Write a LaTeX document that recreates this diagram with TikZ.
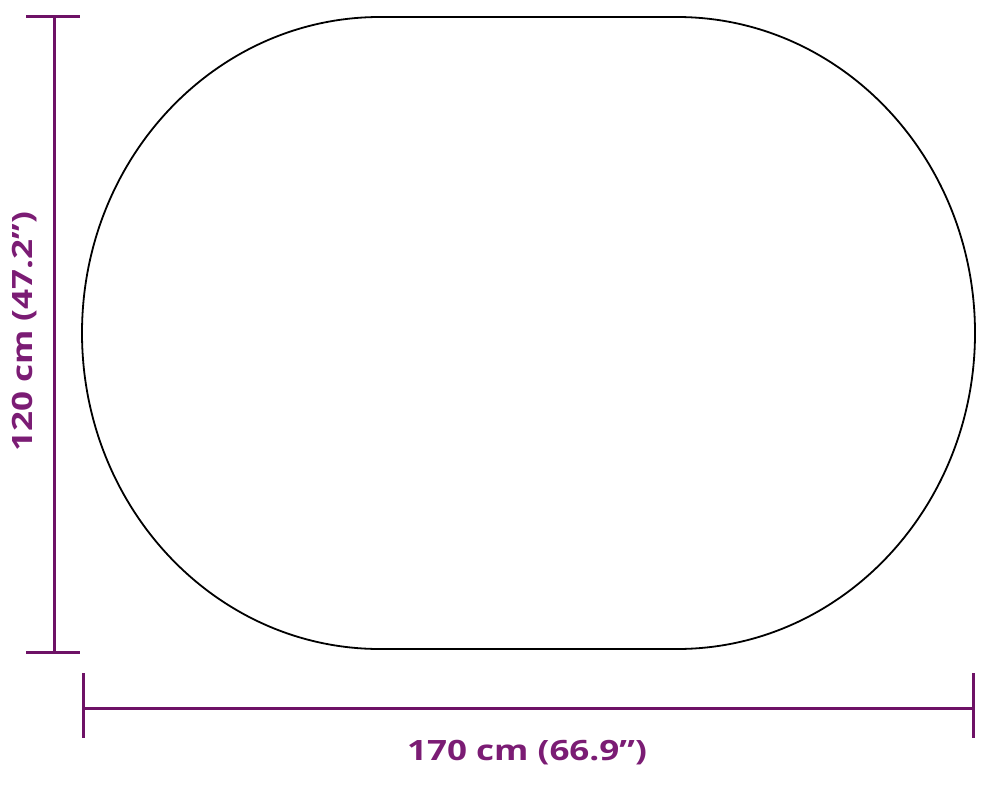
\documentclass[tikz,border=0pt]{standalone}
\usepackage{fontspec}
\setmainfont{Open Sans}
\definecolor{dimline}{HTML}{6E1266}
\definecolor{dimtext}{HTML}{7B1C74}
\newcommand{\dimtxt}[1]{\scalebox{1.25}[1]{#1}}
\begin{document}
\begin{tikzpicture}[x=1pt,y=-1pt,
  dim/.style={draw=dimline,line width=3pt},
  dimlabel/.style={text=dimtext,font=\bfseries\fontsize{28}{32}\selectfont,inner sep=0pt,anchor=base},
  outline/.style={draw=black,line width=1.8pt}]
\useasboundingbox (0,0) rectangle (984,784);
% oval
\draw[outline] (380,17) -- (677,17) arc[start angle=90,end angle=-90,x radius=298,y radius=-316]
  -- (380,649) arc[start angle=270,end angle=90,x radius=298,y radius=-316] -- cycle;
% vertical dimension
\coordinate (vt) at (54,17);
\coordinate (vb) at (54,652);
\coordinate (vtl) at (26,17);
\coordinate (vtr) at (80,17);
\coordinate (vbl) at (26,652);
\coordinate (vbr) at (80,652);
\draw[dim] (vt) -- (vb);
\draw[dim] (vtl) -- (vtr);
\draw[dim] (vbl) -- (vbr);
% horizontal dimension
\coordinate (hl) at (83,708);
\coordinate (hr) at (973,708);
\coordinate (hlt) at (83,673);
\coordinate (hlb) at (83,738);
\coordinate (hrt) at (973,673);
\coordinate (hrb) at (973,738);
\draw[dim] (hl) -- (hr);
\draw[dim] (hlt) -- (hlb);
\draw[dim] (hrt) -- (hrb);
% labels
\node[dimlabel] (wlabel) at (527,760) {\dimtxt{170 cm (66.9”)}};
\node[dimlabel,rotate=90] (hlabel) at (32,332) {\dimtxt{120 cm (47.2”)}};
\end{tikzpicture}
\end{document}
